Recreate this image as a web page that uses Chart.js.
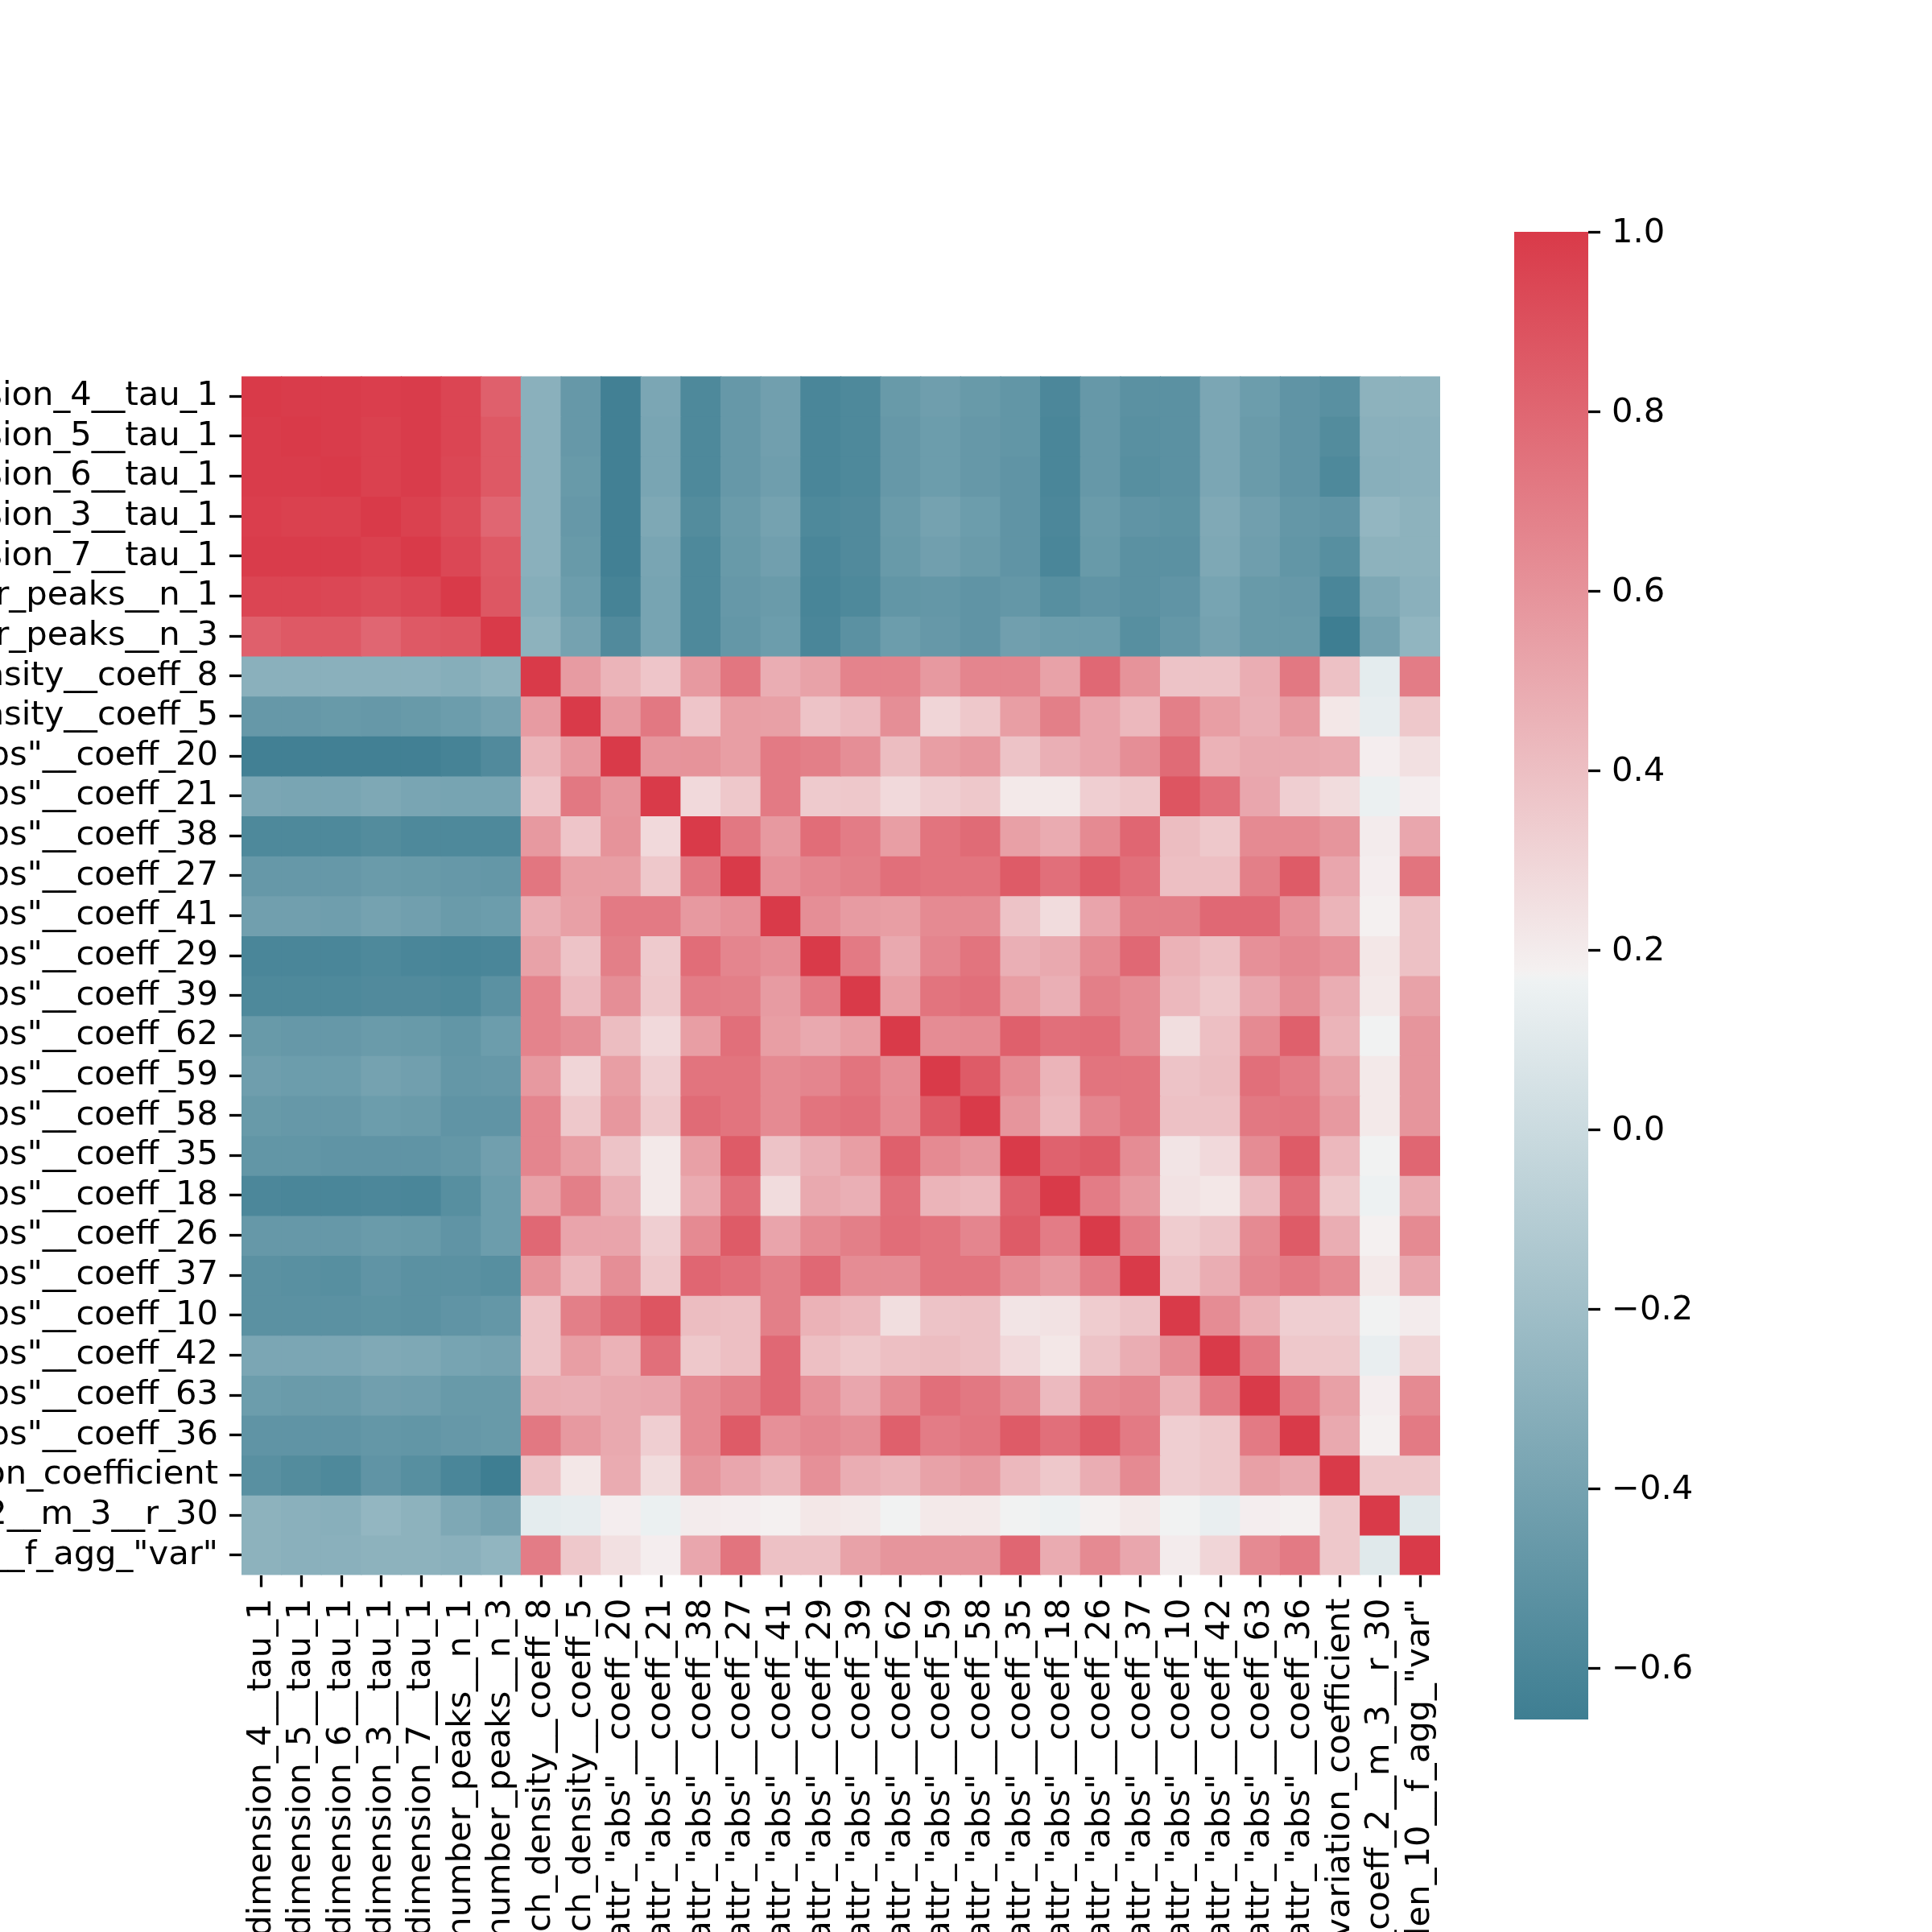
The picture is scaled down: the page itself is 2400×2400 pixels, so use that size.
<!DOCTYPE html>
<html>
<head>
<meta charset="utf-8">
<script src="https://cdn.jsdelivr.net/npm/chart.js@4/dist/chart.umd.min.js"></script>
<style>
  html, body { margin: 0; padding: 0; background: #fff; overflow: hidden; }
  #heat { position: absolute; left: 0; top: 0; width: 2400px; height: 2400px; }
  #bar { position: absolute; left: 1881px; top: 0; width: 400px; height: 2400px; }
</style>
</head>
<body>
<canvas id="heat" width="2400" height="2400"></canvas>
<canvas id="bar" width="400" height="2400"></canvas>
<script>
// feature names (rows and columns are the same)
const labels = [
  'value__permutation_entropy__dimension_4__tau_1',
  'value__permutation_entropy__dimension_5__tau_1',
  'value__permutation_entropy__dimension_6__tau_1',
  'value__permutation_entropy__dimension_3__tau_1',
  'value__permutation_entropy__dimension_7__tau_1',
  'value__number_peaks__n_1',
  'value__number_peaks__n_3',
  'value__spkt_welch_density__coeff_8',
  'value__spkt_welch_density__coeff_5',
  'value__fft_coefficient__attr_"abs"__coeff_20',
  'value__fft_coefficient__attr_"abs"__coeff_21',
  'value__fft_coefficient__attr_"abs"__coeff_38',
  'value__fft_coefficient__attr_"abs"__coeff_27',
  'value__fft_coefficient__attr_"abs"__coeff_41',
  'value__fft_coefficient__attr_"abs"__coeff_29',
  'value__fft_coefficient__attr_"abs"__coeff_39',
  'value__fft_coefficient__attr_"abs"__coeff_62',
  'value__fft_coefficient__attr_"abs"__coeff_59',
  'value__fft_coefficient__attr_"abs"__coeff_58',
  'value__fft_coefficient__attr_"abs"__coeff_35',
  'value__fft_coefficient__attr_"abs"__coeff_18',
  'value__fft_coefficient__attr_"abs"__coeff_26',
  'value__fft_coefficient__attr_"abs"__coeff_37',
  'value__fft_coefficient__attr_"abs"__coeff_10',
  'value__fft_coefficient__attr_"abs"__coeff_42',
  'value__fft_coefficient__attr_"abs"__coeff_63',
  'value__fft_coefficient__attr_"abs"__coeff_36',
  'value__variation_coefficient',
  'value__friedrich_coefficients__coeff_2__m_3__r_30',
  'value__agg_linear_trend__attr_"stderr"__chunk_len_10__f_agg_"var"'
];

// correlation matrix, one row per feature
const corr = [
  [1.00,.99,.99,.98,.99,.95,.83,-.30,-.47,-.64,-.37,-.58,-.47,-.42,-.60,-.58,-.46,-.43,-.46,-.49,-.59,-.47,-.52,-.52,-.37,-.44,-.50,-.53,-.29,-.29],
  [.99,1.00,.99,.97,.99,.95,.86,-.30,-.47,-.64,-.38,-.58,-.47,-.42,-.60,-.58,-.47,-.44,-.47,-.49,-.60,-.47,-.53,-.52,-.37,-.45,-.50,-.56,-.30,-.30],
  [.99,.99,1.00,.97,.99,.94,.86,-.30,-.46,-.64,-.38,-.58,-.47,-.43,-.60,-.58,-.47,-.44,-.47,-.50,-.60,-.47,-.54,-.52,-.37,-.45,-.50,-.58,-.31,-.30],
  [.98,.97,.97,1.00,.97,.92,.80,-.30,-.47,-.64,-.36,-.56,-.45,-.40,-.58,-.57,-.45,-.40,-.44,-.50,-.59,-.45,-.50,-.51,-.35,-.42,-.48,-.50,-.26,-.29],
  [.99,.99,.99,.97,1.00,.94,.86,-.30,-.46,-.64,-.38,-.58,-.46,-.42,-.60,-.57,-.46,-.42,-.45,-.50,-.60,-.46,-.52,-.52,-.36,-.43,-.49,-.54,-.29,-.29],
  [.95,.95,.94,.92,.94,1.00,.87,-.32,-.44,-.62,-.39,-.58,-.47,-.45,-.61,-.58,-.49,-.48,-.50,-.48,-.54,-.50,-.52,-.50,-.39,-.46,-.47,-.60,-.36,-.30],
  [.83,.86,.86,.80,.86,.87,1.00,-.29,-.40,-.57,-.39,-.58,-.48,-.44,-.60,-.52,-.44,-.47,-.50,-.42,-.44,-.44,-.54,-.48,-.40,-.46,-.46,-.657,-.40,-.27],
  [-.30,-.30,-.30,-.30,-.30,-.32,-.29,1.00,.56,.45,.37,.57,.73,.48,.53,.67,.67,.57,.66,.66,.53,.79,.60,.38,.38,.48,.72,.39,.12,.70],
  [-.47,-.47,-.46,-.47,-.46,-.44,-.40,.56,1.00,.57,.72,.37,.55,.54,.38,.42,.62,.30,.36,.55,.69,.52,.43,.69,.55,.47,.57,.22,.13,.36],
  [-.64,-.64,-.64,-.64,-.64,-.62,-.57,.45,.57,1.00,.59,.60,.55,.71,.69,.62,.41,.55,.58,.38,.47,.52,.62,.78,.46,.50,.50,.49,.19,.25],
  [-.37,-.38,-.38,-.36,-.38,-.39,-.39,.37,.72,.59,1.00,.28,.36,.71,.35,.36,.28,.33,.36,.21,.21,.33,.36,.88,.76,.51,.33,.27,.15,.19],
  [-.58,-.58,-.58,-.56,-.58,-.58,-.58,.57,.37,.60,.28,1.00,.72,.57,.77,.70,.55,.74,.78,.54,.49,.64,.80,.41,.36,.64,.64,.59,.20,.51],
  [-.47,-.47,-.47,-.45,-.46,-.47,-.48,.73,.55,.55,.36,.72,1.00,.61,.66,.69,.76,.74,.74,.85,.76,.85,.76,.40,.40,.69,.85,.51,.19,.74],
  [-.42,-.42,-.43,-.40,-.42,-.45,-.44,.48,.54,.71,.71,.57,.61,1.00,.62,.56,.55,.64,.64,.38,.27,.52,.69,.69,.79,.79,.61,.45,.18,.39],
  [-.60,-.60,-.60,-.58,-.60,-.61,-.60,.53,.38,.69,.35,.77,.66,.62,1.00,.71,.50,.66,.74,.47,.50,.64,.79,.46,.40,.61,.65,.61,.22,.39],
  [-.58,-.58,-.58,-.57,-.57,-.58,-.52,.67,.42,.62,.36,.70,.69,.56,.71,1.00,.55,.74,.76,.55,.47,.69,.63,.43,.36,.51,.62,.48,.21,.53],
  [-.46,-.47,-.47,-.45,-.46,-.49,-.44,.67,.62,.41,.28,.55,.76,.55,.50,.55,1.00,.63,.64,.83,.76,.77,.63,.26,.40,.64,.83,.45,.17,.59],
  [-.43,-.44,-.44,-.40,-.42,-.48,-.47,.57,.30,.55,.33,.74,.74,.64,.66,.74,.63,1.00,.85,.64,.45,.74,.74,.38,.41,.76,.70,.53,.21,.59],
  [-.46,-.47,-.47,-.44,-.45,-.50,-.50,.66,.36,.58,.36,.78,.74,.64,.74,.76,.64,.85,1.00,.59,.43,.66,.74,.39,.39,.72,.73,.57,.21,.59],
  [-.49,-.49,-.50,-.50,-.50,-.48,-.42,.66,.55,.38,.21,.54,.85,.38,.47,.55,.83,.64,.59,1.00,.82,.85,.63,.23,.28,.63,.85,.43,.17,.80],
  [-.59,-.60,-.60,-.59,-.60,-.54,-.44,.53,.69,.47,.21,.49,.76,.27,.50,.47,.76,.45,.43,.82,1.00,.70,.57,.24,.22,.42,.76,.36,.16,.49],
  [-.47,-.47,-.47,-.45,-.46,-.50,-.44,.79,.52,.52,.33,.64,.85,.52,.64,.69,.77,.74,.66,.85,.70,1.00,.70,.34,.38,.64,.85,.48,.18,.64],
  [-.52,-.53,-.54,-.50,-.52,-.52,-.54,.60,.43,.62,.36,.80,.76,.69,.79,.63,.63,.74,.74,.63,.57,.70,1.00,.38,.48,.66,.71,.64,.21,.51],
  [-.52,-.52,-.52,-.51,-.52,-.50,-.48,.38,.69,.78,.88,.41,.40,.69,.46,.43,.26,.38,.39,.23,.24,.34,.38,1.00,.63,.46,.33,.33,.17,.20],
  [-.37,-.37,-.37,-.35,-.36,-.39,-.40,.38,.55,.46,.76,.36,.40,.79,.40,.36,.40,.41,.39,.28,.22,.38,.48,.63,1.00,.71,.36,.36,.14,.30],
  [-.44,-.45,-.45,-.42,-.43,-.46,-.46,.48,.47,.50,.51,.64,.69,.79,.61,.51,.64,.76,.72,.63,.42,.64,.66,.46,.71,1.00,.71,.54,.19,.64],
  [-.50,-.50,-.50,-.48,-.49,-.47,-.46,.72,.57,.50,.33,.64,.85,.61,.65,.62,.83,.70,.73,.85,.76,.85,.71,.33,.36,.71,1.00,.50,.18,.71],
  [-.53,-.56,-.58,-.50,-.54,-.60,-.657,.39,.22,.49,.27,.59,.51,.45,.61,.48,.45,.53,.57,.43,.36,.48,.64,.33,.36,.54,.50,1.00,.36,.36],
  [-.29,-.30,-.31,-.26,-.29,-.36,-.40,.12,.13,.19,.15,.20,.19,.18,.22,.21,.17,.21,.21,.17,.16,.18,.21,.17,.14,.19,.18,.36,1.00,.10],
  [-.29,-.30,-.30,-.29,-.29,-.30,-.27,.70,.36,.25,.19,.51,.74,.39,.39,.53,.59,.59,.59,.80,.49,.64,.51,.20,.30,.64,.71,.36,.10,1.00]
];

const colorbarTicks = [-0.6, -0.4, -0.2, 0.0, 0.2, 0.4, 0.6, 0.8, 1.0];

// seaborn diverging_palette(220, 10) as piecewise linear rgb
const cmapStops = [
  [0, [62, 126, 146]],
  [127 / 256, [238, 242, 243]],
  [0.5, [242, 242, 242]],
  [129 / 256, [244, 240, 240]],
  [1, [217, 58, 73]]
];

const flat = corr.flat();
const vmin = Math.min(...flat);
const vmax = Math.max(...flat);

function rgb(c) {
  return 'rgb(' + c.map(v => Math.round(v)).join(',') + ')';
}

function cmap(v) {
  let t = (v - vmin) / (vmax - vmin);
  t = Math.min(1, Math.max(0, t));
  for (let i = 1; i < cmapStops.length; i++) {
    const [t1, c1] = cmapStops[i];
    if (t <= t1) {
      const [t0, c0] = cmapStops[i - 1];
      const f = (t - t0) / (t1 - t0);
      return rgb(c0.map((x, k) => x + (c1[k] - x) * f));
    }
  }
  return rgb(cmapStops[cmapStops.length - 1][1]);
}

const font = { family: 'DejaVu Sans', size: 41.67, lineHeight: 1 };
Chart.defaults.color = '#000';

// one dataset per row, each cell a floating bar spanning [row, row + 1]
const datasets = labels.map((name, r) => ({
  label: name,
  data: labels.map(() => [r, r + 1]),
  backgroundColor: corr[r].map(cmap),
  borderWidth: 0,
  barPercentage: 1,
  categoryPercentage: 1,
  grouped: false,
  inflateAmount: 0.6
}));

new Chart(document.getElementById('heat'), {
  type: 'bar',
  data: { labels: labels, datasets: datasets },
  options: {
    responsive: false,
    animation: false,
    devicePixelRatio: 1,
    layout: { padding: { top: 467.5, right: 611, left: 0, bottom: 0 } },
    plugins: { legend: { display: false }, tooltip: { enabled: false } },
    scales: {
      x: {
        type: 'category',
        afterFit: (s) => { s.height = 443.5; },
        grid: { offset: false, drawOnChartArea: false, tickLength: 15, tickWidth: 3.3, tickColor: '#000' },
        border: { display: false },
        ticks: { autoSkip: false, minRotation: 90, maxRotation: 90, padding: 14, font: font, color: '#000' }
      },
      y: {
        type: 'linear',
        min: 0,
        max: labels.length,
        reverse: true,
        afterFit: (s) => { s.width = 300; },
        afterBuildTicks: (s) => { s.ticks = labels.map((_, i) => ({ value: i + 0.5 })); },
        grid: { drawOnChartArea: false, tickLength: 15, tickWidth: 3.3, tickColor: '#000' },
        border: { display: false },
        ticks: {
          autoSkip: false, padding: 14, font: font, color: '#000',
          callback: (v) => labels[Math.floor(v)]
        }
      }
    }
  }
});

// colour bar
new Chart(document.getElementById('bar'), {
  type: 'bar',
  data: {
    labels: [''],
    datasets: [{
      data: [[vmin, vmax]],
      borderWidth: 0,
      barPercentage: 1,
      categoryPercentage: 1,
      backgroundColor: (c) => {
        const chart = c.chart;
        if (!chart.chartArea) return null;
        const y = chart.scales.y;
        const g = chart.ctx.createLinearGradient(0, y.getPixelForValue(vmin), 0, y.getPixelForValue(vmax));
        cmapStops.forEach(([t, col]) => g.addColorStop(t, rgb(col)));
        return g;
      }
    }]
  },
  options: {
    responsive: false,
    animation: false,
    devicePixelRatio: 1,
    layout: { padding: { top: 288, bottom: 264, left: 0, right: 0 } },
    plugins: { legend: { display: false }, tooltip: { enabled: false } },
    scales: {
      x: { display: false },
      y: {
        position: 'right',
        min: vmin,
        max: vmax,
        afterFit: (s) => { s.width = 308; },
        afterBuildTicks: (s) => { s.ticks = colorbarTicks.map(v => ({ value: v })); },
        grid: { drawOnChartArea: false, tickLength: 15, tickWidth: 3.3, tickColor: '#000' },
        border: { display: false },
        ticks: {
          padding: 14, labelOffset: 2, font: font, color: '#000',
          callback: (v) => v.toFixed(1).replace('-', '\u2212')
        }
      }
    }
  }
});
</script>
</body>
</html>
